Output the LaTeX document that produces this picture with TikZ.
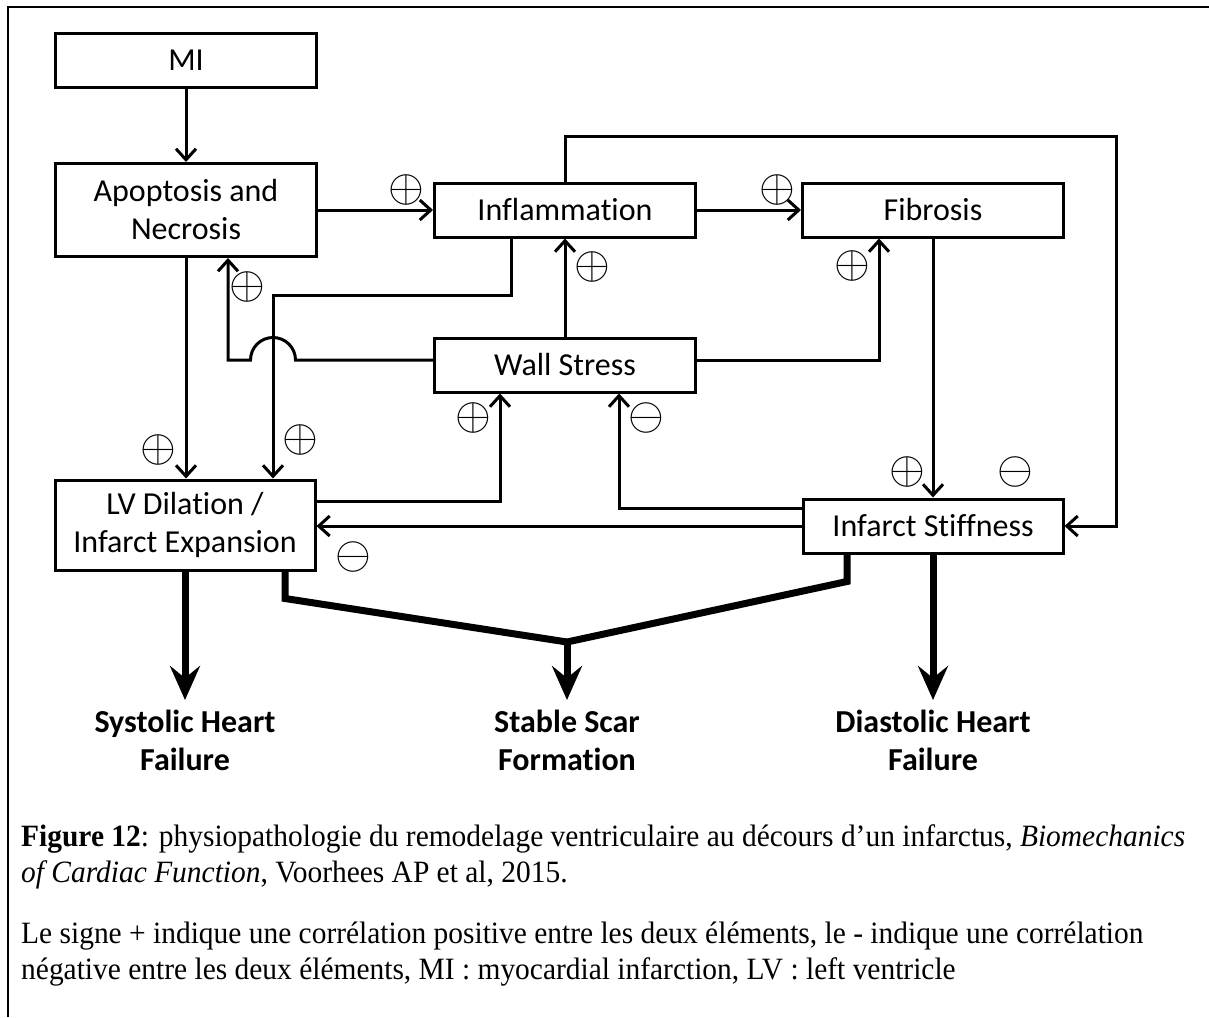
\RequirePackage{fix-cm}
\documentclass[tikz,border=0pt]{standalone}
\usepackage{fontspec}
\setmainfont[Ligatures=NoCommon]{Carlito}
\newfontfamily\capfont[FakeStretch=0.95]{Liberation Serif}
\newcommand{\signp}{\scalebox{1.85}{$\oplus$}}
\newcommand{\signm}{\scalebox{1.85}{$\ominus$}}
\usetikzlibrary{arrows.meta, positioning}

\begin{document}
\begin{tikzpicture}[x=1pt, y=-1pt, node distance=379pt,
  box/.style={draw, line width=3pt, minimum width=261pt, minimum height=54pt, inner sep=0pt, align=center, font=\fontsize{32}{38}\selectfont},
  sign/.style={inner sep=0pt, font=\Huge},
  link/.style={line width=3pt, -{Straight Barb[length=11pt, width=20pt]}},
  heavy/.style={line width=7pt, line join=miter},
  outcome/.style={align=center, inner xsep=0pt, inner ysep=10pt, font=\fontsize{32}{38}\selectfont\bfseries},
  caption/.style={inner sep=0pt, anchor=base west, font=\capfont\fontsize{31}{37}\selectfont}]
      \useasboundingbox (0,0) rectangle (1209,1017);
      \draw[line width=2.5pt] (8,1017) -- (8,7) -- (1209,7);

      \node[box] (mi) at (186,60) {MI};
      \node[box, minimum height=93pt] (apop) at (186,210) {Apoptosis and\\Necrosis};
      \node[box, right of=apop] (infl) {Inflammation};
      \node[box, right of=infl, xshift=-11pt] (fib) {Fibrosis};
      \node[box] (wall) at (565,365) {Wall Stress};
      \node[box, minimum width=260pt, minimum height=90pt] (lv) at (185,525) {LV Dilation /\\Infarct Expansion};
      \node[box, minimum width=260pt] (stiff) at (933,526) {Infarct Stiffness};
      \coordinate (loop) at (1116,136);
      \coordinate (jump) at (273,360);
      \coordinate (merge) at (567,642);

      \draw[link] (mi) -- (apop);
      \draw[link] (apop) -- (infl);
      \draw[link] (infl) -- (fib);
      \draw[link] (infl.north) |- (loop) |- (stiff.east);
      \draw[link] (wall) -- (infl);
      \draw[link] ([yshift=5pt]wall.east) -| ([xshift=-54pt]fib.south);
      \draw[link] ([yshift=5pt]wall.west) -- ([xshift=22.5pt]jump) arc[start angle=0, end angle=180, radius=22.5pt] -| ([xshift=42pt]apop.south);
      \draw[link] ([xshift=-54pt]infl.south) -- ++(0,57) -| ([xshift=88pt]lv.north);
      \draw[link] (apop.south) -- (apop.south |- lv.north);
      \draw[link] ([yshift=24pt]lv.east) -| ([xshift=-65pt]wall.south);
      \draw[link] ([yshift=18pt]stiff.west) -| ([xshift=54pt]wall.south);
      \draw[link] (stiff.west) -- (stiff.west -| lv.east);
      \draw[link] (fib) -- (stiff);

      \node[sign] (s_apin) at (406,190) {\signp};
      \node[sign] (s_infib) at (777,190) {\signp};
      \node[sign] (s_wain) at (592,267) {\signp};
      \node[sign] (s_wafib) at (852,266) {\signp};
      \node[sign] (s_waap) at (247,287) {\signp};
      \node[sign] (s_aplv) at (158,450) {\signp};
      \node[sign] (s_inlv) at (300,440) {\signp};
      \node[sign] (s_lvwa) at (473,418) {\signp};
      \node[sign] (s_stwa) at (646,418) {\signm};
      \node[sign] (s_stlv) at (353,557) {\signm};
      \node[sign] (s_fibst) at (907,472) {\signp};
      \node[sign] (s_inst) at (1015,472) {\signm};

      \node[outcome, anchor=north] (syst) at (185,700) {Systolic Heart\\Failure};
      \node[outcome, anchor=north] (scar) at (567,700) {Stable Scar\\Formation};
      \node[outcome, anchor=north] (diast) at (933,700) {Diastolic Heart\\Failure};
      \draw[heavy, -{Stealth[length=34pt, width=30pt, inset=12pt]}] (lv.south) -- (lv.south |- syst.north);
      \draw[heavy] ([xshift=100pt]lv.south) -- ++(0,27) -- (merge);
      \draw[heavy] ([xshift=-86pt]stiff.south) -- ++(0,27) -- (merge);
      \draw[heavy, -{Stealth[length=34pt, width=30pt, inset=12pt]}] (merge) -- (scar.north);
      \draw[heavy, -{Stealth[length=34pt, width=30pt, inset=12pt]}] (stiff.south) -- (diast.north);

      \node[caption] (cap1) at (21,846) {\textbf{Figure 12}: physiopathologie du remodelage ventriculaire au décours d’un infarctus, \textit{Biomechanics}};
      \node[caption] (cap2) at (21,882) {\textit{of Cardiac Function}, Voorhees AP et al, 2015.};
      \node[caption] (cap3) at (21,943) {Le signe + indique une corrélation positive entre les deux éléments, le - indique une corrélation};
      \node[caption] (cap4) at (21,979) {négative entre les deux éléments, MI : myocardial infarction, LV : left ventricle};
    \end{tikzpicture}
\end{document}
